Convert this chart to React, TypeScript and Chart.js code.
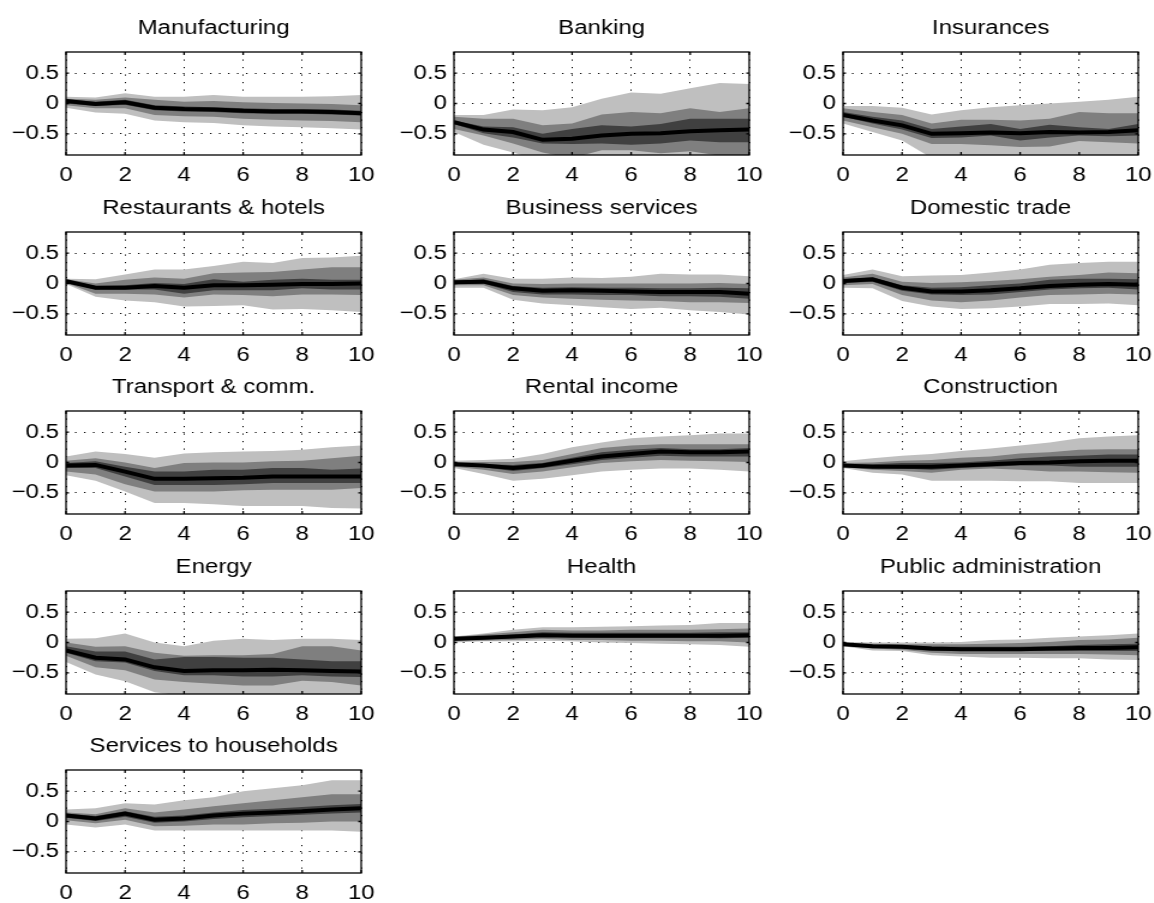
import React, { useEffect, useRef } from "react";
import { Chart, registerables } from "chart.js";

Chart.register(...registerables);

// ---------- data ----------
const HORIZON = [0, 1, 2, 3, 4, 5, 6, 7, 8, 9, 10];
const X_TICKS = [0, 2, 4, 6, 8, 10];
const Y_TICKS = [-0.5, 0, 0.5];
const Y_MIN = -0.85;
const Y_MAX = 0.85;

// each panel: [outer lo, middle lo, inner lo, median, inner hi, middle hi, outer hi]
const manufacturing = [
  [-0.07, -0.15, -0.17, -0.28, -0.31, -0.32, -0.36, -0.38, -0.39, -0.41, -0.43],
  [-0.03, -0.08, -0.08, -0.19, -0.21, -0.22, -0.25, -0.27, -0.28, -0.29, -0.31],
  [0.0, -0.04, -0.02, -0.11, -0.13, -0.14, -0.16, -0.17, -0.17, -0.18, -0.2],
  [0.04, -0.01, 0.02, -0.07, -0.09, -0.1, -0.12, -0.13, -0.13, -0.14, -0.16],
  [0.07, 0.03, 0.06, -0.03, -0.05, -0.06, -0.08, -0.09, -0.09, -0.1, -0.12],
  [0.08, 0.06, 0.1, 0.06, 0.03, 0.04, 0.02, 0.01, 0.0, -0.01, -0.03],
  [0.11, 0.1, 0.17, 0.11, 0.11, 0.14, 0.11, 0.11, 0.11, 0.12, 0.14],
];
const banking = [
  [-0.47, -0.68, -0.81, -0.95, -1.05, -1.1, -1.1, -1.1, -1.1, -1.1, -1.1],
  [-0.42, -0.53, -0.66, -0.81, -0.9, -0.77, -0.77, -0.82, -0.79, -0.86, -0.9],
  [-0.34, -0.49, -0.56, -0.66, -0.67, -0.66, -0.68, -0.66, -0.61, -0.64, -0.64],
  [-0.31, -0.43, -0.47, -0.6, -0.58, -0.53, -0.5, -0.49, -0.46, -0.44, -0.43],
  [-0.28, -0.38, -0.39, -0.5, -0.42, -0.36, -0.38, -0.34, -0.25, -0.25, -0.25],
  [-0.22, -0.25, -0.25, -0.36, -0.33, -0.18, -0.14, -0.16, -0.08, -0.14, -0.08],
  [-0.19, -0.19, -0.1, -0.11, -0.06, 0.08, 0.18, 0.16, 0.25, 0.34, 0.32],
];
const insurances = [
  [-0.33, -0.47, -0.61, -0.9, -0.92, -0.92, -0.92, -0.92, -0.92, -0.92, -0.92],
  [-0.28, -0.39, -0.5, -0.67, -0.67, -0.69, -0.72, -0.71, -0.62, -0.64, -0.66],
  [-0.22, -0.33, -0.43, -0.57, -0.56, -0.53, -0.61, -0.56, -0.53, -0.54, -0.53],
  [-0.19, -0.28, -0.36, -0.5, -0.49, -0.48, -0.49, -0.47, -0.48, -0.47, -0.44],
  [-0.14, -0.22, -0.28, -0.42, -0.38, -0.34, -0.42, -0.35, -0.39, -0.42, -0.34],
  [-0.08, -0.14, -0.19, -0.33, -0.27, -0.27, -0.28, -0.25, -0.14, -0.16, -0.16],
  [-0.04, -0.04, -0.07, -0.18, -0.11, -0.06, -0.03, 0.0, 0.03, 0.06, 0.11],
];
const restaurantsHotels = [
  [-0.01, -0.22, -0.28, -0.31, -0.38, -0.37, -0.36, -0.43, -0.42, -0.44, -0.47],
  [0.01, -0.17, -0.17, -0.18, -0.23, -0.18, -0.19, -0.21, -0.18, -0.18, -0.19],
  [0.02, -0.1, -0.1, -0.1, -0.17, -0.11, -0.11, -0.11, -0.08, -0.1, -0.1],
  [0.04, -0.07, -0.07, -0.04, -0.07, -0.03, -0.03, -0.02, -0.01, -0.01, 0.0],
  [0.06, -0.04, -0.03, 0.01, -0.01, 0.07, 0.03, 0.06, 0.08, 0.06, 0.06],
  [0.07, 0.0, 0.06, 0.1, 0.08, 0.17, 0.18, 0.19, 0.23, 0.27, 0.27],
  [0.08, 0.07, 0.15, 0.23, 0.23, 0.29, 0.36, 0.34, 0.42, 0.43, 0.46],
];
const businessServices = [
  [-0.07, -0.07, -0.27, -0.33, -0.36, -0.39, -0.42, -0.4, -0.44, -0.47, -0.51],
  [-0.03, -0.03, -0.19, -0.23, -0.25, -0.27, -0.28, -0.29, -0.31, -0.31, -0.32],
  [0.0, 0.0, -0.14, -0.18, -0.18, -0.19, -0.19, -0.21, -0.21, -0.22, -0.25],
  [0.02, 0.03, -0.08, -0.12, -0.11, -0.12, -0.13, -0.14, -0.14, -0.14, -0.17],
  [0.04, 0.07, -0.04, -0.07, -0.06, -0.07, -0.07, -0.08, -0.08, -0.07, -0.08],
  [0.06, 0.1, 0.0, -0.01, 0.0, 0.0, 0.0, 0.0, 0.0, 0.01, -0.01],
  [0.07, 0.16, 0.08, 0.08, 0.1, 0.09, 0.11, 0.16, 0.15, 0.15, 0.12],
];
const domesticTrade = [
  [-0.07, -0.08, -0.29, -0.38, -0.42, -0.41, -0.38, -0.34, -0.34, -0.33, -0.36],
  [-0.03, -0.01, -0.19, -0.28, -0.31, -0.28, -0.23, -0.19, -0.18, -0.17, -0.18],
  [0.01, 0.03, -0.12, -0.18, -0.19, -0.18, -0.14, -0.1, -0.08, -0.07, -0.1],
  [0.04, 0.07, -0.07, -0.13, -0.13, -0.11, -0.08, -0.04, -0.02, -0.01, -0.02],
  [0.07, 0.1, -0.03, -0.07, -0.06, -0.03, 0.0, 0.06, 0.08, 0.08, 0.07],
  [0.1, 0.16, 0.03, 0.01, 0.02, 0.04, 0.07, 0.11, 0.14, 0.18, 0.17],
  [0.14, 0.23, 0.12, 0.13, 0.14, 0.18, 0.23, 0.31, 0.34, 0.36, 0.36],
];
const transportComm = [
  [-0.21, -0.3, -0.48, -0.67, -0.67, -0.69, -0.72, -0.72, -0.72, -0.75, -0.76],
  [-0.15, -0.2, -0.36, -0.48, -0.48, -0.48, -0.46, -0.45, -0.45, -0.45, -0.42],
  [-0.09, -0.09, -0.23, -0.37, -0.37, -0.37, -0.36, -0.34, -0.34, -0.34, -0.34],
  [-0.05, -0.04, -0.15, -0.27, -0.27, -0.26, -0.25, -0.23, -0.23, -0.23, -0.23],
  [-0.01, 0.02, -0.07, -0.15, -0.15, -0.12, -0.12, -0.09, -0.09, -0.12, -0.1],
  [0.03, 0.07, 0.0, -0.09, -0.01, 0.0, 0.0, 0.02, 0.03, 0.07, 0.11],
  [0.1, 0.18, 0.14, 0.08, 0.15, 0.17, 0.18, 0.19, 0.21, 0.25, 0.28],
];
const rentalIncome = [
  [-0.09, -0.19, -0.3, -0.27, -0.21, -0.15, -0.12, -0.1, -0.1, -0.12, -0.15],
  [-0.07, -0.12, -0.19, -0.15, -0.08, -0.01, 0.02, 0.04, 0.03, 0.02, 0.01],
  [-0.05, -0.08, -0.14, -0.09, -0.03, 0.04, 0.08, 0.11, 0.1, 0.1, 0.1],
  [-0.03, -0.05, -0.09, -0.05, 0.03, 0.1, 0.14, 0.18, 0.17, 0.17, 0.18],
  [-0.01, -0.03, -0.04, -0.01, 0.08, 0.17, 0.21, 0.24, 0.22, 0.22, 0.24],
  [0.01, 0.01, 0.01, 0.04, 0.14, 0.24, 0.28, 0.3, 0.3, 0.3, 0.3],
  [0.03, 0.04, 0.06, 0.14, 0.25, 0.33, 0.4, 0.43, 0.45, 0.48, 0.48],
];
const construction = [
  [-0.09, -0.17, -0.2, -0.3, -0.3, -0.3, -0.31, -0.31, -0.34, -0.34, -0.34],
  [-0.08, -0.12, -0.14, -0.17, -0.12, -0.1, -0.12, -0.15, -0.15, -0.16, -0.17],
  [-0.07, -0.09, -0.1, -0.12, -0.09, -0.07, -0.05, -0.05, -0.07, -0.07, -0.07],
  [-0.05, -0.07, -0.07, -0.07, -0.05, -0.03, -0.01, 0.0, 0.02, 0.03, 0.03],
  [-0.03, -0.03, -0.01, -0.01, 0.0, 0.03, 0.07, 0.1, 0.11, 0.13, 0.13],
  [-0.01, 0.0, 0.03, 0.04, 0.08, 0.1, 0.15, 0.17, 0.21, 0.22, 0.22],
  [0.02, 0.07, 0.11, 0.14, 0.19, 0.23, 0.28, 0.33, 0.4, 0.43, 0.45],
];
const energy = [
  [-0.32, -0.53, -0.64, -0.82, -0.88, -0.92, -0.92, -0.92, -0.88, -0.88, -0.9],
  [-0.22, -0.41, -0.46, -0.61, -0.65, -0.68, -0.71, -0.71, -0.63, -0.65, -0.71],
  [-0.17, -0.31, -0.33, -0.47, -0.54, -0.54, -0.56, -0.56, -0.54, -0.56, -0.57],
  [-0.13, -0.25, -0.28, -0.41, -0.47, -0.46, -0.46, -0.45, -0.46, -0.47, -0.48],
  [-0.06, -0.15, -0.15, -0.28, -0.24, -0.24, -0.25, -0.25, -0.28, -0.31, -0.31],
  [0.0, -0.07, -0.06, -0.17, -0.22, -0.21, -0.21, -0.19, -0.06, -0.06, -0.13],
  [0.06, 0.07, 0.15, 0.0, -0.06, 0.03, 0.06, 0.04, 0.06, 0.06, 0.04],
];
const health = [
  [0.0, 0.02, 0.02, 0.03, 0.02, 0.0, -0.01, -0.02, -0.03, -0.04, -0.07],
  [0.02, 0.03, 0.04, 0.06, 0.04, 0.04, 0.03, 0.03, 0.02, 0.02, 0.0],
  [0.03, 0.05, 0.07, 0.1, 0.09, 0.08, 0.08, 0.08, 0.08, 0.07, 0.08],
  [0.06, 0.08, 0.1, 0.12, 0.11, 0.11, 0.11, 0.11, 0.11, 0.11, 0.12],
  [0.07, 0.1, 0.13, 0.17, 0.16, 0.16, 0.16, 0.16, 0.16, 0.17, 0.17],
  [0.09, 0.13, 0.17, 0.21, 0.2, 0.2, 0.21, 0.21, 0.21, 0.22, 0.23],
  [0.1, 0.15, 0.21, 0.25, 0.25, 0.26, 0.27, 0.28, 0.29, 0.32, 0.32],
];
const publicAdministration = [
  [-0.06, -0.13, -0.14, -0.21, -0.23, -0.25, -0.25, -0.26, -0.26, -0.28, -0.29],
  [-0.05, -0.1, -0.12, -0.17, -0.19, -0.19, -0.19, -0.19, -0.19, -0.2, -0.21],
  [-0.04, -0.08, -0.1, -0.14, -0.14, -0.14, -0.14, -0.14, -0.14, -0.14, -0.14],
  [-0.03, -0.06, -0.07, -0.1, -0.11, -0.11, -0.11, -0.1, -0.09, -0.09, -0.08],
  [-0.02, -0.04, -0.05, -0.07, -0.07, -0.07, -0.07, -0.06, -0.04, -0.03, -0.02],
  [-0.01, -0.02, -0.03, -0.03, -0.03, -0.02, -0.01, 0.01, 0.04, 0.05, 0.08],
  [0.01, 0.0, 0.0, 0.0, 0.01, 0.04, 0.05, 0.08, 0.1, 0.12, 0.15],
];
const servicesHouseholds = [
  [-0.05, -0.1, -0.05, -0.15, -0.15, -0.15, -0.15, -0.15, -0.15, -0.15, -0.17],
  [0.02, -0.03, 0.03, -0.08, -0.07, -0.05, -0.05, -0.03, -0.02, 0.0, 0.0],
  [0.06, 0.01, 0.08, -0.02, 0.0, 0.04, 0.07, 0.09, 0.11, 0.13, 0.15],
  [0.1, 0.05, 0.13, 0.03, 0.05, 0.1, 0.13, 0.15, 0.17, 0.2, 0.22],
  [0.13, 0.09, 0.17, 0.08, 0.1, 0.15, 0.19, 0.21, 0.24, 0.27, 0.29],
  [0.15, 0.12, 0.22, 0.15, 0.2, 0.25, 0.3, 0.35, 0.4, 0.45, 0.45],
  [0.2, 0.22, 0.3, 0.28, 0.35, 0.4, 0.5, 0.55, 0.6, 0.68, 0.68],
];

const TITLES = [
  "Manufacturing",
  "Banking",
  "Insurances",
  "Restaurants & hotels",
  "Business services",
  "Domestic trade",
  "Transport & comm.",
  "Rental income",
  "Construction",
  "Energy",
  "Health",
  "Public administration",
  "Services to households",
];
const SERIES = [
  manufacturing,
  banking,
  insurances,
  restaurantsHotels,
  businessServices,
  domesticTrade,
  transportComm,
  rentalIncome,
  construction,
  energy,
  health,
  publicAdministration,
  servicesHouseholds,
];

// ---------- layout / style ----------
const STRETCH = 1.2; // horizontal stretch of the original figure
const COL_X = [66, 454, 843]; // plot-area left edge (page px)
const ROW_Y = [52, 232, 411, 591, 770]; // plot-area top edge (page px)
const PLOT_W = 295;
const PLOT_H = 103;
const AXIS_W = 66;
const TITLE_H = 52;
const XAXIS_H = 32;
const RIGHT_PAD = 24;
const FONT_FAMILY = "'Liberation Sans', Arial, Helvetica, sans-serif";
const FONT_SIZE = 20;
const BAND_COLORS = ["#bfbfbf", "#7f7f7f", "#404040"];

const fmtTick = (v: number) => {
  if (v === 0) return "0";
  const s = String(Math.abs(v));
  return v < 0 ? "\u2212" + s : s;
};

const framePlugin = {
  id: "frame",
  afterDraw(chart: any) {
    const { ctx, chartArea: a, scales } = chart;
    ctx.save();
    ctx.strokeStyle = "#000";
    ctx.lineWidth = 1.3;
    ctx.beginPath();
    X_TICKS.forEach((t) => {
      const px = scales.x.getPixelForValue(t);
      ctx.moveTo(px, a.bottom);
      ctx.lineTo(px, a.bottom - 3);
      ctx.moveTo(px, a.top);
      ctx.lineTo(px, a.top + 3);
    });
    Y_TICKS.forEach((t) => {
      const py = scales.y.getPixelForValue(t);
      ctx.moveTo(a.left, py);
      ctx.lineTo(a.left + 2.5, py);
      ctx.moveTo(a.right, py);
      ctx.lineTo(a.right - 2.5, py);
    });
    ctx.stroke();
    ctx.strokeRect(a.left, a.top, a.right - a.left, a.bottom - a.top);
    ctx.restore();
  },
};

function Panel({ index }: { index: number }) {
  const ref = useRef<HTMLCanvasElement | null>(null);
  const row = Math.floor(index / 3);
  const col = index % 3;
  const cssW = AXIS_W + PLOT_W + RIGHT_PAD;
  const cssH = TITLE_H + PLOT_H + XAXIS_H;
  const w = cssW / STRETCH;

  useEffect(() => {
    if (!ref.current) return;
    const s = SERIES[index];
    const pts = (arr: number[]) => HORIZON.map((h, i) => ({ x: h, y: arr[i] }));
    const band = (arr: number[], order: number, fill: number | false, color: string) => ({
      data: pts(arr),
      order,
      fill,
      backgroundColor: color,
      borderColor: "rgba(0,0,0,0)",
      borderWidth: 0,
      pointRadius: 0,
      tension: 0,
    });
    const font = { family: FONT_FAMILY, size: FONT_SIZE, weight: "normal" as const };
    const chart = new Chart(ref.current, {
      type: "line",
      data: {
        datasets: [
          band(s[0], 7, false, BAND_COLORS[0]),
          band(s[6], 6, 0, BAND_COLORS[0]),
          band(s[1], 5, false, BAND_COLORS[1]),
          band(s[5], 4, 2, BAND_COLORS[1]),
          band(s[2], 3, false, BAND_COLORS[2]),
          band(s[4], 2, 4, BAND_COLORS[2]),
          {
            data: pts(s[3]),
            order: 1,
            fill: false,
            borderColor: "#000",
            borderWidth: 4,
            pointRadius: 0,
            tension: 0,
          },
        ],
      } as any,
      options: {
        animation: false,
        responsive: false,
        devicePixelRatio: 1,
        events: [],
        layout: { padding: { left: 0, right: RIGHT_PAD / STRETCH, top: 0, bottom: 0 } },
        plugins: {
          legend: { display: false },
          tooltip: { enabled: false },
          title: {
            display: true,
            fullSize: false,
            text: TITLES[index],
            color: "#000",
            font,
            padding: { top: 16.5, bottom: TITLE_H - 16.5 - FONT_SIZE * 1.2 },
          },
        },
        scales: {
          x: {
            type: "linear",
            min: 0,
            max: 10,
            z: 1,
            afterBuildTicks: (sc: any) => {
              sc.ticks = X_TICKS.map((v) => ({ value: v }));
            },
            afterFit: (sc: any) => {
              sc.height = XAXIS_H;
            },
            grid: { color: "#000", lineWidth: 1, drawTicks: false },
            border: { display: false, dash: [1.2, 6.3] },
            ticks: {
              color: "#000",
              font,
              padding: 8,
              maxRotation: 0,
              autoSkip: false,
              callback: (v: any) => String(v),
            },
          },
          y: {
            type: "linear",
            min: Y_MIN,
            max: Y_MAX,
            z: 1,
            afterBuildTicks: (sc: any) => {
              sc.ticks = Y_TICKS.map((v) => ({ value: v }));
            },
            afterFit: (sc: any) => {
              sc.width = AXIS_W / STRETCH;
            },
            grid: { color: "#000", lineWidth: 1, drawTicks: false },
            border: { display: false, dash: [1.2, 6.3] },
            ticks: {
              color: "#000",
              font,
              padding: 7 / STRETCH,
              autoSkip: false,
              callback: (v: any) => fmtTick(Number(v)),
            },
          },
        },
      } as any,
      plugins: [framePlugin],
    });
    return () => chart.destroy();
  }, [index]);

  return (
    <canvas
      ref={ref}
      width={Math.round(w)}
      height={cssH}
      style={{
        position: "absolute",
        left: COL_X[col] - AXIS_W,
        top: ROW_Y[row] - TITLE_H,
        width: Math.round(w),
        height: cssH,
        transform: `scaleX(${STRETCH})`,
        transformOrigin: "0 0",
      }}
    />
  );
}

export default function App() {
  return (
    <div
      style={{
        position: "absolute",
        left: 0,
        top: 0,
        width: 1154,
        height: 903,
        background: "#fff",
        overflow: "hidden",
      }}
    >
      {TITLES.map((_, i) => (
        <Panel key={i} index={i} />
      ))}
    </div>
  );
}
